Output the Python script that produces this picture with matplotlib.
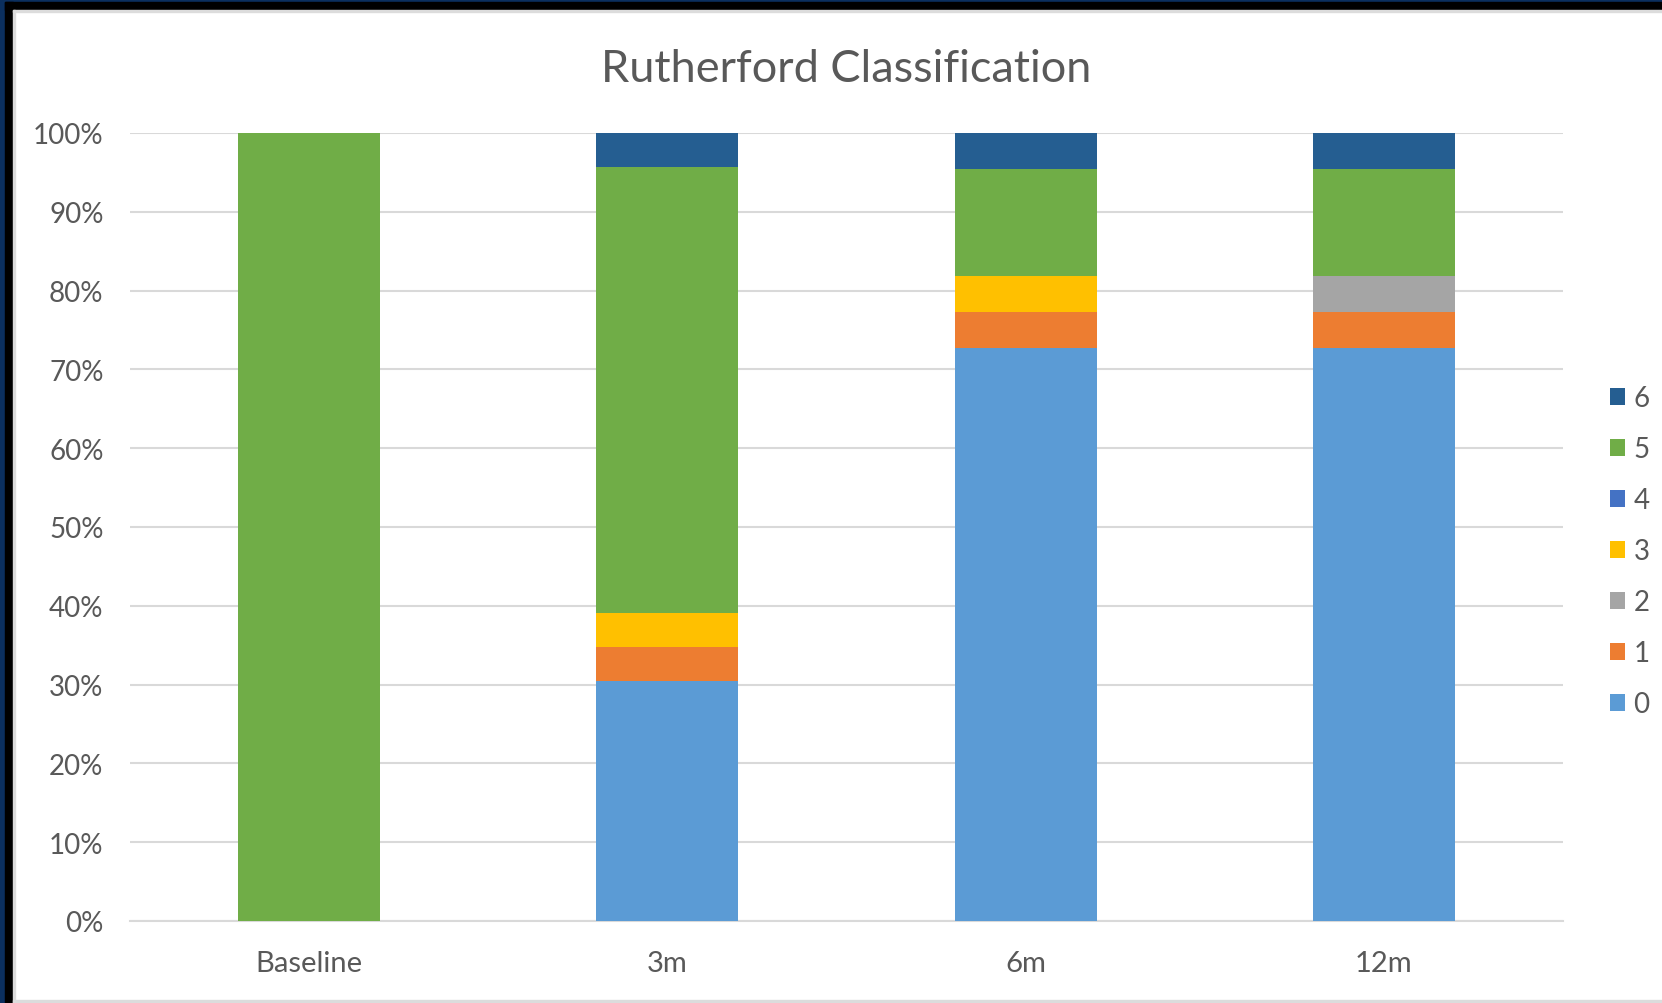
import matplotlib
matplotlib.use("Agg")
import matplotlib.pyplot as plt
from matplotlib.patches import Rectangle, Patch
import numpy as np

plt.rcParams['font.family'] = ['Lato', 'DejaVu Sans']

# Data: share of limbs per Rutherford class at each follow-up (%)
timepoints = ["Baseline", "3m", "6m", "12m"]
classes = ["0", "1", "2", "3", "4", "5", "6"]
class_0 = [0.0, 30.43, 72.73, 72.73]
class_1 = [0.0, 4.35, 4.55, 4.55]
class_2 = [0.0, 0.0, 0.0, 4.55]
class_3 = [0.0, 4.35, 4.55, 0.0]
class_4 = [0.0, 0.0, 0.0, 0.0]
class_5 = [100.0, 56.52, 13.64, 13.64]
class_6 = [0.0, 4.35, 4.55, 4.55]
yticks = [0, 10, 20, 30, 40, 50, 60, 70, 80, 90, 100]

series = [class_0, class_1, class_2, class_3, class_4, class_5, class_6]
colors = ["#5B9BD5", "#ED7D31", "#A5A5A5", "#FFC000", "#4472C4", "#70AD47", "#255E91"]

W, H = 1662, 1004
fig = plt.figure(figsize=(W / 100, H / 100), dpi=100)
fig.patch.set_facecolor("white")

# Window-like frame around the chart
def px_rect(x, y, w, h, color):
    fig.patches.append(Rectangle((x / W, 1 - (y + h) / H), w / W, h / H,
                                 transform=fig.transFigure, color=color, zorder=0))

px_rect(0, 0, W, 3, "#0B2F5E")
px_rect(0, 0, 5, H, "#0B2F5E")
px_rect(5, 3, W, 8, "#000000")
px_rect(5, 3, 8, H, "#000000")
px_rect(13, 11, W, 2, "#DCDCDC")
px_rect(13, 11, 2, H, "#DCDCDC")
px_rect(13, H - 3, W, 3, "#DCDCDC")

ax = fig.add_axes([130 / W, 82 / H, (1563 - 130) / W, (922 - 134) / H])
ax.set_facecolor("none")

x = np.arange(len(timepoints))
bottom = np.zeros(len(timepoints))
for vals, col in zip(series, colors):
    v = np.array(vals)
    ax.bar(x, v, width=0.397, bottom=bottom, color=col, zorder=3)
    bottom += v

ax.set_xlim(-0.5, len(timepoints) - 0.5)
ax.set_ylim(0, 100)
ax.set_yticks(yticks)
ax.set_yticklabels([f"{t}%" for t in yticks])
ax.set_xticks(x)
ax.set_xticklabels(timepoints, fontsize=21)
ax.tick_params(axis="y", length=0, labelsize=20, colors="#595959", pad=19)
ax.tick_params(axis="x", length=0, colors="#595959", pad=21)
ax.grid(axis="y", color="#D9D9D9", linewidth=1.5, zorder=0)
for s in ["top", "right", "left"]:
    ax.spines[s].set_visible(False)
ax.spines["bottom"].set_color("#D9D9D9")
ax.spines["bottom"].set_linewidth(1.5)

fig.text(846 / W, 1 - 70 / H, "Rutherford Classification", ha="center", va="center",
         fontsize=32.5, color="#595959")

handles = [Patch(facecolor=c, label=l) for c, l in zip(colors, classes)]
leg = fig.legend(handles[::-1], classes[::-1], loc="center left",
                 bbox_to_anchor=(1610 / W, 1 - 552 / H), frameon=False,
                 fontsize=20, labelcolor="#595959", handlelength=0.55, handleheight=0.55,
                 handletextpad=0.3, labelspacing=0.9, borderaxespad=0, borderpad=0)

fig.savefig("out.png", dpi=100, facecolor="white")
